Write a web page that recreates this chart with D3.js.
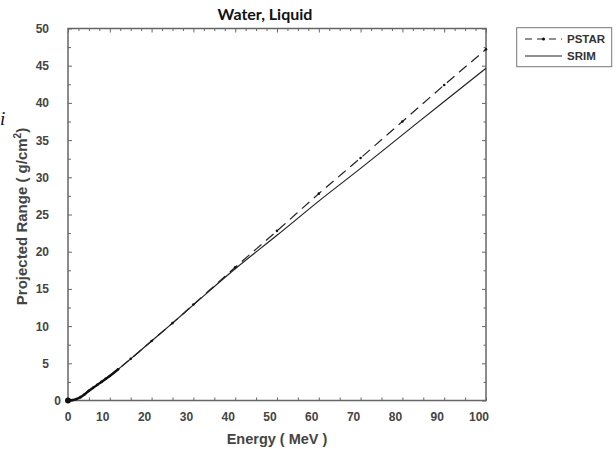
<!DOCTYPE html>
<html>
<head>
<meta charset="utf-8">
<script src="https://cdn.jsdelivr.net/npm/d3@7"></script>
<style>
  body { margin:0; background:#fff; }
  text { font-family: "Liberation Sans", Arial, sans-serif; }
</style>
</head>
<body>
<div id="wrapper"></div>
<script>
// data
const energy = [0, 1, 2, 3, 4, 5, 6, 7, 8, 9, 10, 12, 15, 20, 25, 30, 40, 50, 60, 70, 80, 90, 100];
const pstar  = [0, 0.05, 0.2, 0.45, 0.85, 1.3, 1.7, 2.1, 2.5, 2.9, 3.3, 4.2, 5.6, 8.0, 10.4, 12.9, 17.9, 22.8, 27.8, 32.6, 37.5, 42.4, 47.2];
const srim   = [0, 0.05, 0.2, 0.45, 0.85, 1.3, 1.7, 2.1, 2.5, 2.9, 3.3, 4.2, 5.6, 8.0, 10.4, 12.85, 17.7, 22.2, 26.8, 31.2, 35.7, 40.2, 44.65];
const xTicks = [0, 10, 20, 30, 40, 50, 60, 70, 80, 90, 100];
const yTicks = [0, 5, 10, 15, 20, 25, 30, 35, 40, 45, 50];
const seriesNames = ["PSTAR", "SRIM"];

const dimensions = {
  width: 616,
  height: 449,
  left: 68,
  right: 486,
  top: 28.5,
  bottom: 400.5
}

const xScale = d3.scaleLinear().domain([0, 100]).range([dimensions.left, dimensions.right]);
const yScale = d3.scaleLinear().domain([0, 50]).range([dimensions.bottom, dimensions.top]);

const svg = d3.select("#wrapper").append("svg")
  .attr("width", dimensions.width)
  .attr("height", dimensions.height)

const axisColor = "#666";
const labelColor = "#444";

// ticks (inside the frame)
const styleAxis = g => {
  g.select(".domain").remove();
  g.selectAll(".tick line").attr("stroke", axisColor).attr("stroke-width", 1);
  g.selectAll(".tick text").remove();
}
const minorX = d3.range(0, 100.1, 2.5);
const minorY = d3.range(0, 50.1, 2.5);

svg.append("g").attr("transform", `translate(0,${dimensions.top})`)
  .call(d3.axisTop(xScale).tickValues(minorX).tickSizeInner(0).tickSizeOuter(0))
  .call(styleAxis)
  .selectAll(".tick line").attr("y2", d => d % 10 === 0 ? 4 : 2.5);

svg.append("g").attr("transform", `translate(0,${dimensions.bottom})`)
  .call(d3.axisBottom(xScale).tickValues(d3.range(0, 100.1, 5)).tickSizeInner(0).tickSizeOuter(0))
  .call(styleAxis)
  .selectAll(".tick line").attr("y2", -3);

svg.append("g").attr("transform", `translate(${dimensions.left},0)`)
  .call(d3.axisLeft(yScale).tickValues(minorY).tickSizeInner(0).tickSizeOuter(0))
  .call(styleAxis)
  .selectAll(".tick line").attr("x2", d => d % 5 === 0 ? 4 : 3);

svg.append("g").attr("transform", `translate(${dimensions.right},0)`)
  .call(d3.axisRight(yScale).tickValues(minorY).tickSizeInner(0).tickSizeOuter(0))
  .call(styleAxis)
  .selectAll(".tick line").attr("x2", d => d % 5 === 0 ? -4 : -2.5);

// frame
svg.append("rect")
  .attr("x", dimensions.left).attr("y", dimensions.top)
  .attr("width", dimensions.right - dimensions.left)
  .attr("height", dimensions.bottom - dimensions.top)
  .attr("fill", "none").attr("stroke", axisColor).attr("stroke-width", 1.5)

// tick labels
svg.append("g").selectAll("text")
  .data(xTicks)
  .join("text")
  .attr("x", d => xScale(d) + (d === 0 ? 0 : -7))
  .attr("y", 421)
  .attr("text-anchor", "middle")
  .attr("font-size", 12)
  .attr("font-weight", "bold")
  .attr("fill", labelColor)
  .text(d => d)

svg.append("g").selectAll("text")
  .data(yTicks)
  .join("text")
  .attr("x", d => d === 0 ? 61 : 49)
  .attr("y", d => yScale(d) + 4.5)
  .attr("text-anchor", "end")
  .attr("font-size", 12)
  .attr("font-weight", "bold")
  .attr("fill", labelColor)
  .text(d => d)

// lines
const line = d3.line()
  .x(d => xScale(d[0]))
  .y(d => yScale(d[1]))
  .curve(d3.curveMonotoneX);

const pstarPts = energy.map((e, i) => [e, pstar[i]]);
const srimPts = energy.map((e, i) => [e, srim[i]]);

svg.append("path")
  .datum(srimPts)
  .attr("d", line)
  .attr("fill", "none")
  .attr("stroke", "#222")
  .attr("stroke-width", 1.2)

svg.append("path")
  .datum(pstarPts)
  .attr("d", line)
  .attr("fill", "none")
  .attr("stroke", "#222")
  .attr("stroke-width", 1.2)
  .attr("stroke-dasharray", "10,6")

// dense points at low energy make the curve look heavy there
svg.append("path")
  .datum(pstarPts.filter(d => d[0] <= 12))
  .attr("d", line)
  .attr("fill", "none")
  .attr("stroke", "#111")
  .attr("stroke-width", 2.4)

svg.append("g").selectAll("circle")
  .data(pstarPts)
  .join("circle")
  .attr("cx", d => xScale(d[0]))
  .attr("cy", d => yScale(d[1]))
  .attr("r", d => d[0] === 0 ? 3 : 1.3)
  .attr("fill", "#111")

// titles
svg.append("text")
  .attr("x", 265).attr("y", 20)
  .attr("text-anchor", "middle")
  .style("font-family", "Lato, 'Open Sans', sans-serif")
  .attr("font-size", 16)
  .attr("font-weight", "bold")
  .attr("fill", "#111")
  .text("Water, Liquid")

svg.append("text")
  .attr("x", 277).attr("y", 443.5)
  .attr("text-anchor", "middle")
  .attr("font-size", 14.5)
  .attr("font-weight", "bold")
  .attr("fill", labelColor)
  .text("Energy ( MeV )")

const yTitle = svg.append("text")
  .attr("transform", "translate(27,216.5) rotate(-90)")
  .attr("text-anchor", "middle")
  .attr("font-size", 15)
  .attr("font-weight", "bold")
  .attr("fill", labelColor)
yTitle.append("tspan").text("Projected Range ( g/cm")
yTitle.append("tspan").attr("font-size", 10).attr("dy", -6).text("2")
yTitle.append("tspan").attr("dy", 6).text(")")

// stray glyph at the left edge of the picture
svg.append("text")
  .attr("x", 0).attr("y", 125)
  .style("font-family", "'Liberation Serif', serif")
  .attr("font-style", "italic")
  .attr("font-size", 19)
  .attr("fill", "#111")
  .text("i")

// legend
const legend = svg.append("g")
legend.append("rect")
  .attr("x", 516.7).attr("y", 27.7)
  .attr("width", 95).attr("height", 39)
  .attr("fill", "#fff").attr("stroke", "#777").attr("stroke-width", 1)

const rows = legend.selectAll("g.row")
  .data(seriesNames)
  .join("g")
  .attr("class", "row")
  .attr("transform", (d, i) => `translate(0,${39 + i * 17})`)

rows.append("line")
  .attr("x1", 525).attr("x2", 562)
  .attr("stroke", "#222").attr("stroke-width", 1.2)
  .attr("stroke-dasharray", d => d === "PSTAR" ? "7,5" : null)

rows.filter(d => d === "PSTAR").append("circle")
  .attr("cx", 543.5).attr("cy", 0).attr("r", 1.6).attr("fill", "#111")

rows.append("text")
  .attr("x", 567).attr("y", 4)
  .attr("font-size", 11.5)
  .attr("font-weight", "bold")
  .attr("fill", "#333")
  .text(d => d)
</script>
</body>
</html>
